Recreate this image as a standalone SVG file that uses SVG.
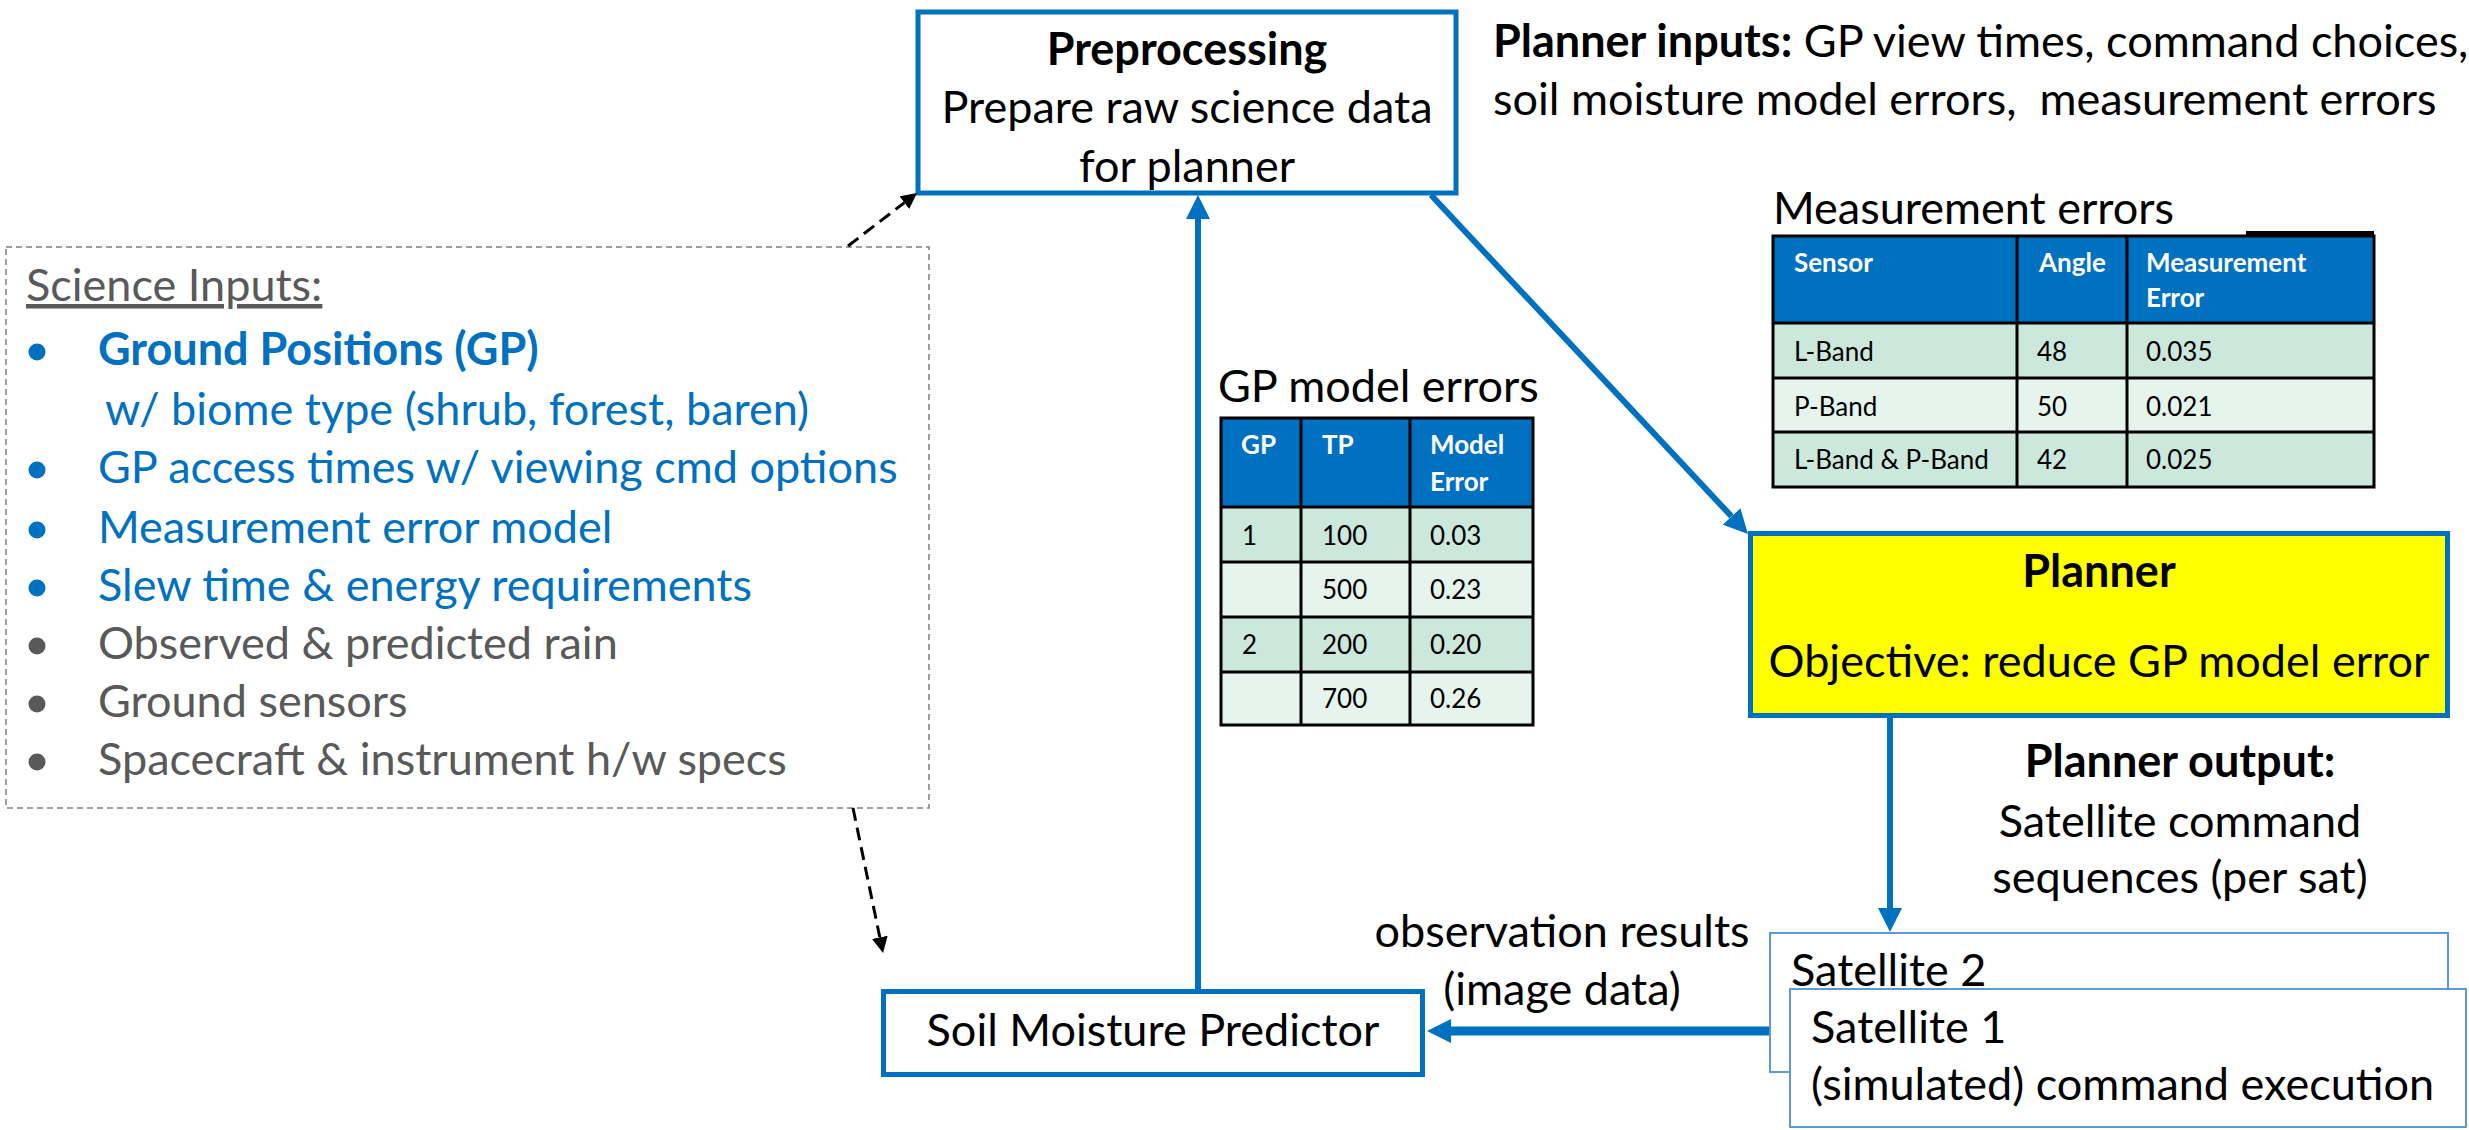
<svg xmlns="http://www.w3.org/2000/svg" width="2469" height="1130" viewBox="0 0 2469 1130">
  <style>
    text { font-family: Lato, "Liberation Sans", sans-serif; font-size: 45px; fill: #000; }
    .b { font-weight: 700; }
    .blue { fill: #0070C0; }
    .gray { fill: #595959; }
    .mid { text-anchor: middle; }
    .node { fill: #fff; stroke: #0070C0; stroke-width: 5; }
    .sat { fill: #fff; stroke: #5B9BD5; stroke-width: 2; }
    .flow { fill: none; stroke: #0070C0; stroke-width: 6; }
    .flow.heavy { stroke-width: 9; }
    .dash { fill: none; stroke: #000; stroke-width: 3; stroke-dasharray: 13 7; }
    .th { font-size: 26px; font-weight: 700; fill: #fff; }
    .td { font-size: 26px; }
    .hdr { fill: #0070C0; }
    .r1 { fill: #CCE8DC; }
    .r2 { fill: #E6F4EE; }
    .grid { stroke: #000; stroke-width: 3; fill: none; }
  </style>
  <defs>
    <marker id="ahBlue" viewBox="0 0 24 24" markerWidth="24" markerHeight="24" refX="0" refY="12" orient="auto" markerUnits="userSpaceOnUse">
      <path d="M0,0 L24,12 L0,24 z" fill="#0070C0"/>
    </marker>
    <marker id="ahBlack" viewBox="0 0 16 16" markerWidth="16" markerHeight="16" refX="0" refY="8" orient="auto" markerUnits="userSpaceOnUse">
      <path d="M0,0 L16,8 L0,16 z" fill="#000"/>
    </marker>
  </defs>

  <!-- Science inputs panel -->
  <g id="science-inputs">
    <rect x="6" y="247" width="923" height="561" fill="none" stroke="#7F7F7F" stroke-width="1.5" stroke-dasharray="6 4"/>
    <text x="26" y="301" class="gray" text-decoration="underline">Science Inputs:</text>
    <circle cx="37" cy="352" r="8.5" fill="#0070C0"/>
    <text x="98" y="365" class="blue b">Ground Positions (GP)</text>
    <text x="105" y="425" class="blue">w/ biome type (shrub, forest, baren)</text>
    <circle cx="37" cy="470" r="8.5" fill="#0070C0"/>
    <text x="98" y="483" class="blue">GP access times w/ viewing cmd options</text>
    <circle cx="37" cy="530" r="8.5" fill="#0070C0"/>
    <text x="98" y="543" class="blue">Measurement error model</text>
    <circle cx="37" cy="588" r="8.5" fill="#0070C0"/>
    <text x="98" y="601" class="blue">Slew time &amp; energy requirements</text>
    <circle cx="37" cy="646" r="8.5" fill="#595959"/>
    <text x="98" y="659" class="gray">Observed &amp; predicted rain</text>
    <circle cx="37" cy="704" r="8.5" fill="#595959"/>
    <text x="98" y="717" class="gray">Ground sensors</text>
    <circle cx="37" cy="762" r="8.5" fill="#595959"/>
    <text x="98" y="775" class="gray">Spacecraft &amp; instrument h/w specs</text>
  </g>

  <!-- Preprocessing -->
  <g id="preprocessing">
    <rect x="918" y="12" width="538" height="181" class="node"/>
    <text x="1187" y="65" class="b mid">Preprocessing</text>
    <text x="1187" y="123" class="mid">Prepare raw science data</text>
    <text x="1187" y="182" class="mid">for planner</text>
  </g>

  <!-- Planner inputs note -->
  <g id="planner-inputs">
    <text x="1493" y="57" xml:space="preserve"><tspan class="b">Planner inputs:</tspan> GP view times, command choices,</text>
    <text x="1493" y="115" xml:space="preserve">soil moisture model errors,  measurement errors</text>
  </g>

  <!-- Measurement errors table -->
  <g id="measurement-errors">
    <text x="1773" y="224">Measurement errors</text>
    <rect x="1773" y="236" width="601" height="87" class="hdr"/>
    <rect x="1773" y="323" width="601" height="55" class="r1"/>
    <rect x="1773" y="378" width="601" height="54" class="r2"/>
    <rect x="1773" y="432" width="601" height="55" class="r1"/>
    <path class="grid" d="M1773,236 H2374 V487 H1773 Z M1773,323 H2374 M1773,378 H2374 M1773,432 H2374 M2017,236 V487 M2127,236 V487"/>
    <line x1="2246" y1="233" x2="2374" y2="233" stroke="#000" stroke-width="4"/>
    <text x="1794" y="272" class="th">Sensor</text>
    <text x="2039" y="272" class="th">Angle</text>
    <text x="2146" y="272" class="th">Measurement</text>
    <text x="2146" y="307" class="th">Error</text>
    <text x="1794" y="361" class="td">L-Band</text>
    <text x="2037" y="361" class="td">48</text>
    <text x="2146" y="361" class="td">0.035</text>
    <text x="1794" y="416" class="td">P-Band</text>
    <text x="2037" y="416" class="td">50</text>
    <text x="2146" y="416" class="td">0.021</text>
    <text x="1794" y="469" class="td">L-Band &amp; P-Band</text>
    <text x="2037" y="469" class="td">42</text>
    <text x="2146" y="469" class="td">0.025</text>
  </g>

  <!-- GP model errors table -->
  <g id="gp-model-errors">
    <text x="1218" y="402">GP model errors</text>
    <rect x="1221" y="418" width="312" height="89" class="hdr"/>
    <rect x="1221" y="507" width="312" height="55" class="r1"/>
    <rect x="1221" y="562" width="312" height="55" class="r2"/>
    <rect x="1221" y="617" width="312" height="55" class="r1"/>
    <rect x="1221" y="672" width="312" height="53" class="r2"/>
    <path class="grid" d="M1221,418 H1533 V725 H1221 Z M1221,507 H1533 M1221,562 H1533 M1221,617 H1533 M1221,672 H1533 M1301,418 V725 M1410,418 V725"/>
    <text x="1241" y="454" class="th">GP</text>
    <text x="1322" y="454" class="th">TP</text>
    <text x="1430" y="454" class="th">Model</text>
    <text x="1430" y="491" class="th">Error</text>
    <text x="1242" y="545" class="td">1</text>
    <text x="1322" y="545" class="td">100</text>
    <text x="1430" y="545" class="td">0.03</text>
    <text x="1322" y="599" class="td">500</text>
    <text x="1430" y="599" class="td">0.23</text>
    <text x="1242" y="654" class="td">2</text>
    <text x="1322" y="654" class="td">200</text>
    <text x="1430" y="654" class="td">0.20</text>
    <text x="1322" y="708" class="td">700</text>
    <text x="1430" y="708" class="td">0.26</text>
  </g>

  <!-- Planner -->
  <g id="planner">
    <rect x="1750.5" y="533.5" width="697" height="182" fill="#FFFF00" stroke="#0070C0" stroke-width="5"/>
    <text x="2099" y="587" class="b mid">Planner</text>
    <text x="2099" y="677" class="mid">Objective: reduce GP model error</text>
  </g>

  <!-- Planner output note -->
  <g id="planner-output">
    <text x="2180" y="777" class="b mid">Planner output:</text>
    <text x="2180" y="837" class="mid">Satellite command</text>
    <text x="2180" y="893" class="mid">sequences (per sat)</text>
  </g>

  <!-- Satellites -->
  <g id="satellite-2">
    <rect x="1770" y="933" width="678" height="139" class="sat"/>
    <text x="1791" y="986">Satellite 2</text>
  </g>
  <g id="satellite-1">
    <rect x="1790" y="989" width="676" height="138" class="sat"/>
    <text x="1811" y="1043">Satellite 1</text>
    <text x="1811" y="1100">(simulated) command execution</text>
  </g>

  <!-- Soil Moisture Predictor -->
  <g id="soil-moisture-predictor">
    <rect x="883.5" y="991.5" width="539" height="83" class="node"/>
    <text x="1153" y="1046" class="mid">Soil Moisture Predictor</text>
  </g>

  <!-- Edge label -->
  <g id="observation-label">
    <text x="1562" y="947" class="mid">observation results</text>
    <text x="1562" y="1005" class="mid">(image data)</text>
  </g>

  <!-- Connectors -->
  <g id="connectors">
    <path class="flow" d="M1198,989 V219" marker-end="url(#ahBlue)"/>
    <path class="flow" d="M1431,195 L1731.6,516.5" marker-end="url(#ahBlue)"/>
    <path class="flow" d="M1890,716 V908" marker-end="url(#ahBlue)"/>
    <path class="flow heavy" d="M1769,1031 H1451" marker-end="url(#ahBlue)"/>
    <path class="dash" d="M848,246 L904.3,202.7" marker-end="url(#ahBlack)"/>
    <path class="dash" d="M853,808 L879.8,937.3" marker-end="url(#ahBlack)"/>
  </g>
</svg>
